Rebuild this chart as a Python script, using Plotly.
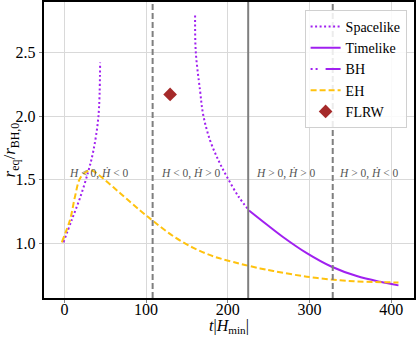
import plotly.graph_objects as go

# Data
space1_t = [-1.2, 9, 19.2, 29.4, 35.5, 41.6, 43.7]
space1_r = [1.01, 1.186, 1.36, 1.57, 1.73, 1.995, 2.42]

space2_t = [160, 160.8, 166, 170, 178.3, 188.5, 198.8, 213, 226]
space2_r = [2.79, 2.505, 2.204, 2.007, 1.81, 1.654, 1.526, 1.37, 1.26]

time_t = [226, 247.7, 268, 296.7, 327.3, 357.9, 386.4, 409]
time_r = [1.26, 1.15, 1.05, 0.925, 0.818, 0.745, 0.70, 0.672]

eh_t = [-3.2, 7, 13, 19.2, 27.4, 33.5, 43.7, 68.3, 92.7, 109, 133.4, 157.9, 182.4, 206.9, 239.5, 255.8, 296.7, 337.5, 370, 409]
eh_r = [1.01, 1.19, 1.37, 1.513, 1.565, 1.573, 1.53, 1.395, 1.26, 1.175, 1.057, 0.966, 0.90, 0.855, 0.805, 0.785, 0.74, 0.712, 0.70, 0.695]

flrw_t = [129.4]
flrw_r = [2.17]

dashed_lines = [108, 328.5]
solid_lines = [225]

region_labels = ["<i>H</i> &lt; 0, <i>Ḣ</i> &lt; 0", "<i>H</i> &lt; 0, <i>Ḣ</i> &gt; 0",
                 "<i>H</i> &gt; 0, <i>Ḣ</i> &gt; 0", "<i>H</i> &gt; 0, <i>Ḣ</i> &lt; 0"]
region_label_t = [3, 116, 232, 334]

x_ticks = [0, 100, 200, 300, 400]
y_ticks = [1.0, 1.5, 2.0, 2.5]

PURPLE = "#a020f0"
ORANGE = "#ffc20e"
GRAY = "#7f7f7f"
FONT = "Liberation Serif"

fig = go.Figure()
fig.add_trace(go.Scatter(x=space1_t, y=space1_r, mode="lines", name="Spacelike",
                         legendgroup="s", line=dict(color=PURPLE, width=2, dash="2px,2.5px", shape="spline")))
fig.add_trace(go.Scatter(x=space2_t, y=space2_r, mode="lines", name="Spacelike", showlegend=False,
                         legendgroup="s", line=dict(color=PURPLE, width=2, dash="2px,2.5px", shape="spline")))
fig.add_trace(go.Scatter(x=time_t, y=time_r, mode="lines", name="Timelike",
                         line=dict(color=PURPLE, width=2, shape="spline")))
fig.add_trace(go.Scatter(x=[None], y=[None], mode="lines", name="BH",
                         line=dict(color=PURPLE, width=2, dash="2px,3px,2px,8px,15px,100px")))
fig.add_trace(go.Scatter(x=eh_t, y=eh_r, mode="lines", name="EH",
                         line=dict(color=ORANGE, width=2, dash="6px,3px", shape="spline")))
fig.add_trace(go.Scatter(x=flrw_t, y=flrw_r, mode="markers", name="FLRW",
                         marker=dict(symbol="diamond", size=10.5, color="#a52a2a")))

for xv in dashed_lines:
    fig.add_vline(x=xv, line=dict(color=GRAY, width=2, dash="6px,3px"))
for xv in solid_lines:
    fig.add_vline(x=xv, line=dict(color=GRAY, width=2))

for lbl, tx in zip(region_labels, region_label_t):
    fig.add_annotation(x=tx, y=1.5, xref="x", yref="y", text=lbl, showarrow=False,
                       xanchor="left", yanchor="bottom", yshift=-2,
                       font=dict(family=FONT, size=11.5, color="#555555"))

# axis titles
fig.add_annotation(x=0.5, y=-0.095, xref="paper", yref="paper", showarrow=False,
                   text="<i>t</i>|<i>H</i><sub>min</sub>|", xanchor="center", yanchor="middle",
                   font=dict(family=FONT, size=16, color="black"))
fig.add_annotation(x=-0.088, y=0.5, xref="paper", yref="paper", showarrow=False, textangle=-90,
                   text="<i>r</i><sub>eq</sub>/<i>r</i><sub>BH,0</sub>", xanchor="center", yanchor="middle",
                   font=dict(family=FONT, size=17, color="black"))

axis_common = dict(showgrid=True, gridcolor="#d9d9d9", gridwidth=1, zeroline=False,
                   showline=True, linecolor="black", linewidth=1.5, mirror=True,
                   ticks="outside", ticklen=3.5, tickcolor="#888888", tickwidth=1,
                   automargin=False,
                   tickfont=dict(family=FONT, size=16, color="black"))
fig.update_xaxes(range=[-25, 428], tickvals=x_ticks, ticktext=[str(v) for v in x_ticks],
                 ticklabelstandoff=-7, **axis_common)
fig.update_yaxes(range=[0.573, 2.895], tickvals=y_ticks, ticktext=[f"{v:.1f}" for v in y_ticks], **axis_common)

fig.update_layout(
    width=417, height=337,
    margin=dict(l=44, r=3, t=2, b=39),
    plot_bgcolor="white", paper_bgcolor="white",
    legend=dict(x=0.98, y=0.973, xanchor="right", yanchor="top",
                bgcolor="rgba(255,255,255,0.85)", bordercolor="#d0d0d0", borderwidth=1,
                font=dict(family=FONT, size=14, color="black"),
                itemwidth=30, tracegroupgap=0),
    showlegend=True,
)

fig.write_html("out.html", config={"displayModeBar": False},
               post_script="document.body.style.margin='0px';document.body.style.padding='0px';")
